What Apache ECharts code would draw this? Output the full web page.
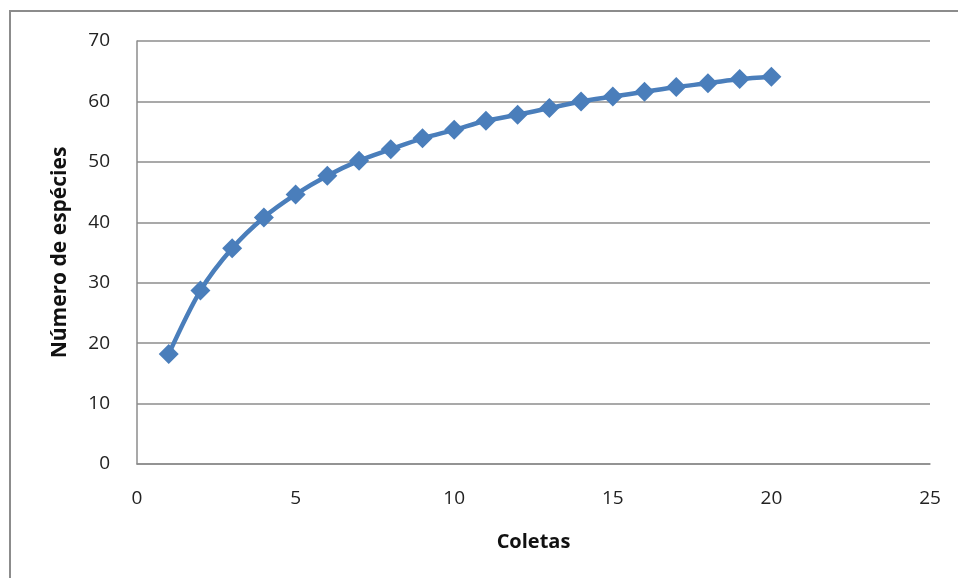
<!DOCTYPE html>
<html>
<head>
<meta charset="utf-8">
<script src="https://cdn.jsdelivr.net/npm/echarts@6/dist/echarts.min.js"></script>
<style>
  html, body { margin: 0; padding: 0; background: #fff; }
  #chart { width: 958px; height: 578px; }
</style>
</head>
<body>
<div id="chart"></div>
<script>
// Species accumulation curve: number of species vs. number of collections
const coletas = [1, 2, 3, 4, 5, 6, 7, 8, 9, 10, 11, 12, 13, 14, 15, 16, 17, 18, 19, 20];
const especies = [18.2, 28.7, 35.7, 40.8, 44.6, 47.7, 50.2, 52.1, 53.9, 55.3,
                  56.8, 57.8, 58.9, 60.0, 60.8, 61.6, 62.4, 63.0, 63.7, 64.1];

const FONT = '"Liberation Sans Narrow", "Open Sans", sans-serif';

const chart = echarts.init(document.getElementById('chart'), null, { renderer: 'canvas' });

chart.setOption({
  animation: false,
  backgroundColor: '#ffffff',
  graphic: [{
    type: 'rect',
    shape: { x: 10, y: 11, width: 980, height: 600 },
    style: { fill: 'none', stroke: '#8c8c8c', lineWidth: 2 },
    silent: true,
    z: -1
  }],
  grid: { left: 137, right: 28, top: 41, bottom: 114, containLabel: false },
  xAxis: {
    type: 'value',
    min: 0, max: 25, interval: 5,
    name: 'Coletas',
    nameLocation: 'middle',
    nameGap: 68,
    nameTextStyle: { fontFamily: FONT, fontSize: 20, fontWeight: 'bold', color: '#111' },
    axisLine: { show: true, onZero: false, lineStyle: { color: '#8c8c8c', width: 1.5 } },
    axisTick: { show: false },
    axisLabel: { fontFamily: FONT, fontSize: 19, color: '#222', margin: 25 },
    splitLine: { show: false }
  },
  yAxis: {
    type: 'value',
    min: 0, max: 70, interval: 10,
    name: 'Número de espécies',
    nameLocation: 'middle',
    nameGap: 66,
    nameRotate: 90,
    nameTextStyle: { fontFamily: FONT, fontSize: 21, fontWeight: 'bold', color: '#111' },
    axisLine: { show: true, lineStyle: { color: '#8c8c8c', width: 1.5 } },
    axisTick: { show: false },
    axisLabel: { fontFamily: FONT, fontSize: 19, color: '#222', margin: 27 },
    splitLine: { show: true, lineStyle: { color: '#8c8c8c', width: 1.5 } }
  },
  series: [{
    type: 'line',
    data: coletas.map((c, i) => [c, especies[i]]),
    smooth: 0.3,
    symbol: 'diamond',
    symbolSize: 20,
    itemStyle: { color: '#4a7ebb' },
    lineStyle: { color: '#4a7ebb', width: 4.5 }
  }]
});
</script>
</body>
</html>
